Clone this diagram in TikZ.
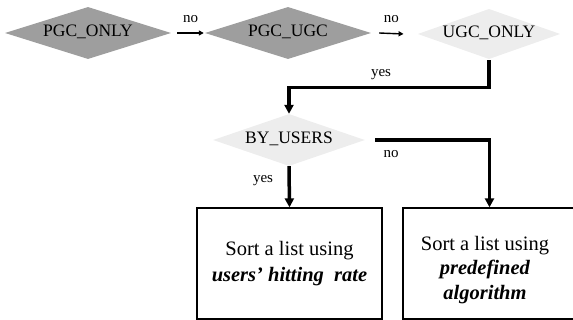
\documentclass[tikz,border=0pt]{standalone}
\usepackage{fontspec}
\setmainfont{Liberation Serif}
\usetikzlibrary{shapes.geometric,arrows.meta}
\begin{document}
\begin{tikzpicture}[x=1pt,y=-1pt,
  % diamond size = text box (width w, height 16pt) grown by the aspect
  decision/.style={diamond, inner sep=0pt, text height=12pt, text depth=4pt,
    align=center, font=\fontsize{17.5}{19}\selectfont},
  darkdec/.style={decision, fill=black!38, shape aspect=3.19, text width=115pt},
  lightdec/.style={decision, fill=black!7},
  flowlabel/.style={font=\fontsize{15}{17}\selectfont, inner sep=0pt},
  thinarrow/.style={line width=1.4pt, -{Triangle[length=5pt,width=5pt]}},
  thickarrow/.style={line width=3.5pt, -{Triangle[length=9pt,width=9pt]}},
  actionbox/.style={draw, line width=1.3pt, minimum height=111pt, inner sep=0pt,
    align=center, font=\fontsize{20.5}{26}\selectfont}]
\useasboundingbox (0,0) rectangle (573,320);

% decisions
\node[darkdec]  (pgconly) at (88,33)  {PGC\_ONLY};
\node[darkdec]  (pgcugc)  at (288,33) {PGC\_UGC};
\node[lightdec, shape aspect=2.84, text width=97pt] (ugconly) at (489,34) {UGC\_ONLY};
\node[lightdec, shape aspect=2.92, text width=105pt] (byusers) at (289,140) {BY\_USERS};

% actions
\node[actionbox, minimum width=185pt] (userrate) at (289.5,263.5)
  {Sort a list using\\ \textbf{\textit{users’ hitting\ \ rate}}};
\node[actionbox, minimum width=173pt] (predef) at (489.5,263.5) {};
\node[align=center, font=\fontsize{20.5}{24.5}\selectfont, inner sep=0pt] (predeftext)
  at (485,270) {Sort a list using\\ \textbf{\textit{predefined}}\\ \textbf{\textit{algorithm}}};

% flow
\draw[thinarrow] ([xshift=6pt]pgconly.east) -- ([xshift=-1pt]pgcugc.west)
  node[flowlabel, midway, above=10pt] {no};
\draw[thinarrow] ([xshift=8pt]pgcugc.east) -- ([xshift=-14pt]ugconly.west)
  node[flowlabel, midway, above=10pt] {no};
\draw[thickarrow] ([yshift=-1pt]ugconly.south) -- ++(0,27) coordinate (ugcbend)
  -| (byusers.north);
\node[flowlabel] at (381,75) {yes};
\draw[thickarrow] ([xshift=10pt]byusers.east) -| (predef.north);
\node[flowlabel] at (391,154) {no};
\draw[thickarrow] (byusers.south) -- (userrate.north);
\node[flowlabel] at (263,181) {yes};
\end{tikzpicture}
\end{document}
